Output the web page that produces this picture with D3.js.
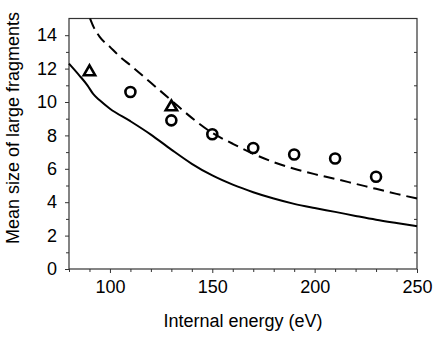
<!DOCTYPE html>
<html><head><meta charset="utf-8">
<script src="https://cdn.jsdelivr.net/npm/d3@7"></script>
<style>body{margin:0;background:#fff}svg{display:block}</style>
</head><body>
<script>
const solidE = [80, 85, 89, 92, 95, 100, 110, 120, 130, 140, 150, 160, 170, 180, 190, 200, 210, 220, 230, 240, 250];
const solidS = [12.3, 11.6, 11.0, 10.45, 10.1, 9.6, 8.85, 8.05, 7.15, 6.3, 5.6, 5.05, 4.6, 4.22, 3.9, 3.65, 3.42, 3.18, 2.95, 2.75, 2.56];
const dashE = [90.3, 92, 95, 100, 105, 110, 120, 130, 140, 150, 160, 170, 180, 190, 200, 210, 220, 230, 240, 250];
const dashS = [15, 14.5, 13.9, 13.3, 12.7, 12.2, 11.15, 10.1, 9.05, 8.15, 7.5, 6.9, 6.4, 6.0, 5.68, 5.4, 5.1, 4.8, 4.5, 4.22];
const circE = [110, 130, 150, 170, 190, 210, 230];
const circS = [10.6, 8.9, 8.07, 7.25, 6.86, 6.62, 5.52];
const triE = [90, 130];
const triS = [11.8, 9.7];
const xTicks = [100, 150, 200, 250];
const yTicks = [0, 2, 4, 6, 8, 10, 12, 14];
const xLabel = "Internal energy (eV)";
const yLabel = "Mean size of large fragments";

const W = 436, H = 340;
const L = 69, R = 417, T = 18.5, B = 269;
const svg = d3.select("body").append("svg").attr("width", W).attr("height", H);
const x = d3.scaleLinear().domain([80, 250]).range([L, R]);
const y = d3.scaleLinear().domain([0, 15]).range([B, T]);
const font = "Liberation Sans, Arial, sans-serif";
const frame = "#333";

// frame
svg.append("rect").attr("x", L).attr("y", T).attr("width", R - L).attr("height", B - T)
  .attr("fill", "none").attr("stroke", frame).attr("stroke-width", 1.2);

// bottom axis
const xa = svg.append("g").attr("transform", `translate(0,${B})`)
  .call(d3.axisBottom(x).tickValues(xTicks).tickSize(4).tickPadding(7).tickFormat(d3.format("d")));
const xm = svg.append("g").attr("transform", `translate(0,${B})`)
  .call(d3.axisBottom(x).tickValues(d3.range(80, 251, 10).filter(v => v % 50 !== 0)).tickSize(3).tickFormat(""));
// left axis
const ya = svg.append("g").attr("transform", `translate(${L},0)`)
  .call(d3.axisLeft(y).tickValues(yTicks).tickSize(4).tickPadding(8).tickFormat(d3.format("d")));
const ym = svg.append("g").attr("transform", `translate(${L},0)`)
  .call(d3.axisLeft(y).tickValues([1, 3, 5, 7, 9, 11, 13]).tickSize(3).tickFormat(""));
// right axis inward ticks
const yr = svg.append("g").attr("transform", `translate(${R},0)`)
  .call(d3.axisLeft(y).tickValues([1, 3, 5, 7, 9, 11, 13]).tickSize(3).tickFormat(""));
[xa, xm, ya, ym, yr].forEach(g => {
  g.select(".domain").remove();
  g.selectAll("line").attr("stroke", frame).attr("stroke-width", 1);
  g.selectAll("text").attr("font-family", font).attr("font-size", 18).attr("fill", "#000");
});

// curves
const line = d3.line().x(d => x(d[0])).y(d => y(d[1])).curve(d3.curveMonotoneX);
svg.append("path").datum(solidE.map((e, i) => [e, solidS[i]]))
  .attr("d", line).attr("fill", "none").attr("stroke", "#000").attr("stroke-width", 2);
svg.append("path").datum(dashE.map((e, i) => [e, dashS[i]]))
  .attr("d", line).attr("fill", "none").attr("stroke", "#000").attr("stroke-width", 2)
  .attr("stroke-dasharray", "11,6");

// circles
svg.selectAll("circle.pt").data(circE.map((e, i) => [e, circS[i]])).enter().append("circle")
  .attr("cx", d => x(d[0])).attr("cy", d => y(d[1])).attr("r", 5)
  .attr("fill", "none").attr("stroke", "#000").attr("stroke-width", 2.6);
// triangles
const tri = d3.symbol().type(d3.symbolTriangle).size(55);
svg.selectAll("path.tri").data(triE.map((e, i) => [e, triS[i]])).enter().append("path")
  .attr("d", tri).attr("transform", d => `translate(${x(d[0])},${y(d[1])})`)
  .attr("fill", "none").attr("stroke", "#000").attr("stroke-width", 2.6).attr("stroke-linejoin", "miter");

// labels
svg.append("text").attr("x", (L + R) / 2).attr("y", 327).attr("text-anchor", "middle")
  .attr("font-family", font).attr("font-size", 18).text(xLabel);
svg.append("text").attr("transform", "translate(19,128) rotate(-90)").attr("text-anchor", "middle")
  .attr("font-family", font).attr("font-size", 18).text(yLabel);
</script>
</body></html>
